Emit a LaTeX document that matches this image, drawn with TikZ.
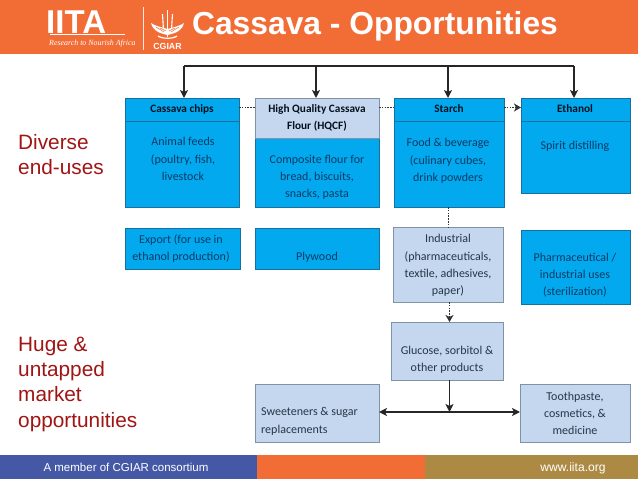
\documentclass[tikz,border=0pt]{standalone}
\usepackage{fontspec}
\setmainfont{Liberation Sans}
\newfontfamily\boxfont{Carlito}
\newfontfamily\logofont{Liberation Serif}
\usetikzlibrary{arrows.meta}
\definecolor{hdr}{HTML}{F26C36}
\definecolor{bluebox}{HTML}{03A9EE}
\definecolor{paleface}{HTML}{C5D7EE}
\definecolor{skyedge}{HTML}{17709F}
\definecolor{paleedge}{HTML}{7E93A6}
\definecolor{skytext}{HTML}{0A3A66}
\definecolor{paletext}{HTML}{25364A}
\definecolor{footblue}{HTML}{4458A6}
\definecolor{footgold}{HTML}{AD8A43}
\definecolor{redtext}{HTML}{A01414}
\tikzset{
  x=1pt,y=-1pt,
  sky/.style={fill=bluebox,draw=skyedge,line width=0.9pt},
  pale/.style={fill=paleface,draw=paleedge,line width=1pt},
  cellbox/.style={inner sep=0pt,outer sep=0pt,anchor=north west},
  skytxt/.style={inner sep=0pt,align=center,text=skytext,font=\boxfont\fontsize{12}{17.3}\selectfont},
  paletxt/.style={inner sep=0pt,align=center,text=paletext,font=\boxfont\fontsize{12}{17.3}\selectfont},
  headtxt/.style={inner sep=0pt,align=center,text=black!70!skytext,font=\boxfont\bfseries\fontsize{11.3}{17}\selectfont},
  solidarrow/.style={line width=1.5pt,draw=black!85,-{Stealth[length=8pt,width=8pt,inset=2pt]}},
  plainline/.style={line width=1.5pt,draw=black!85},
  dotline/.style={line width=1.7pt,draw=black!80,dash pattern=on 1.5pt off 1.3pt},
  side/.style={anchor=north west,inner sep=0pt,align=left,text=redtext,font=\fontsize{20.8}{25.4}\selectfont},
}
\begin{document}
\begin{tikzpicture}
\useasboundingbox (0,0) rectangle (638,479);
% header
\fill[hdr] (0,0) rectangle (638,54);
\node[anchor=base,inner sep=0pt,text=white,font=\bfseries\fontsize{31.8}{33}\selectfont] (title) at (375,34.5) {Cassava - Opportunities};
% logo
\node[anchor=base west,inner sep=0pt,text=white,font=\bfseries\fontsize{33}{33}\selectfont] (iita) at (46,33) {IITA};
\draw[white,line width=0.7pt] (50,34.5) -- (125,34.5);
\node[anchor=west,inner sep=0pt,text=white,font=\logofont\itshape\fontsize{7.9}{9}\selectfont] (tag) at (49,44) {Research to Nourish Africa};
\draw[white!85!hdr,line width=0.7pt] (143.5,7) -- (143.5,50);
\node[anchor=center,inner sep=0pt,text=white,font=\bfseries\fontsize{8.8}{9}\selectfont] (cg) at (167.5,46) {CGIAR};
\draw[white,line width=1.3pt] (167.5,10) -- (167.5,37);
\draw[white,line width=1.1pt] (162.5,14) -- (163.5,30) (172.5,14) -- (171.5,30);
\fill[white] (151,23) .. controls (155,26) and (161,27) .. (167.5,29) .. controls (174,27) and (180,26) .. (184,23) .. controls (182,31) and (176,33) .. (167.5,35) .. controls (159,33) and (153,31) .. (151,23) -- cycle;
\draw[hdr,line width=0.5pt] (156,27) -- (164,32) (179,27) -- (171,32) (160,28) -- (166,31) (175,28) -- (169,31);
\draw[white,line width=1.2pt] (158,36) .. controls (162,39) and (173,39) .. (177,36);
% column 1
\node[cellbox,sky,minimum width=114pt,minimum height=109pt] (chipsbody) at (125,98) {};
\node[cellbox,sky,minimum width=114pt,minimum height=23pt] (chipshead) at (125,98) {};
\node[headtxt] (chips) at (182,109) {Cassava chips};
\node[skytxt] (feeds) at (183,159) {Animal feeds\\(poultry,  fish,\\livestock};
% column 2
\node[cellbox,sky,minimum width=124pt,minimum height=69pt] (compbody) at (255,138) {};
\node[cellbox,pale,minimum width=124pt,minimum height=40pt] (hqcfhead) at (255,98) {};
\node[headtxt] (hqcf) at (317,117.5) {High Quality Cassava\\Flour (HQCF)};
\node[skytxt] (comp) at (317,177.5) {Composite flour for\\bread, biscuits,\\snacks, pasta};
% column 3
\node[cellbox,sky,minimum width=110pt,minimum height=109pt] (starchbody) at (394,98) {};
\node[cellbox,sky,minimum width=110pt,minimum height=23pt] (starchhead) at (394,98) {};
\node[headtxt] (starch) at (449,109) {Starch};
\node[skytxt] (food) at (448,161) {Food \& beverage\\(culinary cubes,\\drink powders};
% column 4
\node[cellbox,sky,minimum width=109pt,minimum height=95pt] (ethbody) at (521,98) {};
\node[cellbox,sky,minimum width=109pt,minimum height=23pt] (ethhead) at (521,98) {};
\node[headtxt] (ethanol) at (575,109) {Ethanol};
\node[skytxt] (spirit) at (575,146) {Spirit distilling};
% second row
\node[cellbox,sky,minimum width=115pt,minimum height=41pt] (exportbox) at (125,228) {};
\node[skytxt] (export) at (181,248.5) {Export (for use in\\ethanol production)};
\node[cellbox,sky,minimum width=124pt,minimum height=41pt] (plybox) at (255,228) {};
\node[skytxt] (ply) at (317,257) {Plywood};
\node[cellbox,pale,minimum width=110pt,minimum height=75pt] (indbox) at (393,227) {};
\node[paletxt] (ind) at (448,265.5) {Industrial\\(pharmaceuticals,\\textile, adhesives,\\paper)};
\node[cellbox,sky,minimum width=109pt,minimum height=74pt] (pharmabox) at (521,230) {};
\node[skytxt] (pharma) at (575,275) {Pharmaceutical /\\industrial uses\\(sterilization)};
\node[cellbox,pale,minimum width=112pt,minimum height=58pt] (glucbox) at (391,322) {};
\node[paletxt] (gluc) at (447,359.5) {Glucose, sorbitol \&\\other products};
\node[cellbox,pale,minimum width=124pt,minimum height=58pt] (sweetbox) at (255,384) {};
\node[paletxt,anchor=west,align=left] (sweet) at (261,421.5) {Sweeteners \& sugar\\replacements};
\node[cellbox,pale,minimum width=110pt,minimum height=58pt] (toothbox) at (520,384) {};
\node[paletxt] (tooth) at (575,413.5) {Toothpaste,\\cosmetics, \&\\medicine};
% connectors
\coordinate (topL) at (184,66);
\coordinate (topB) at (316,66);
\coordinate (topC) at (448,66);
\coordinate (topR) at (574,66);
\draw[plainline] (topL) -- (topR);
\draw[solidarrow] (topL) -- (topL |- chipshead.north);
\draw[solidarrow] (topB) -- (topB |- hqcfhead.north);
\draw[solidarrow] (topC) -- (topC |- starchhead.north);
\draw[solidarrow] (topR) -- (topR |- ethhead.north);
\coordinate (dotrow) at (0,107.5);
\draw[dotline] (chipshead.east |- dotrow) -- (hqcfhead.west |- dotrow);
\draw[dotline] (hqcfhead.east |- dotrow) -- (starchhead.west |- dotrow);
\draw[dotline,-{Stealth[length=7pt,width=8pt,inset=2pt]}] (starchhead.east |- dotrow) -- (ethhead.west |- dotrow);
\coordinate (dotx) at (448.5,0);
\coordinate (dotz) at (449.5,0);
\draw[dotline] (dotx |- starchbody.south) -- (dotx |- indbox.north);
\draw[dotline,-{Stealth[length=7pt,width=8pt,inset=2pt]}] (dotz |- indbox.south) -- (dotz |- glucbox.north);
\coordinate (tee) at (449.5,412);
\draw[solidarrow] (tee |- glucbox.south) -- (tee);
\draw[plainline,{Stealth[length=8pt,width=8pt,inset=2pt]}-{Stealth[length=8pt,width=8pt,inset=2pt]}] (sweetbox.east |- tee) -- (toothbox.west |- tee);
% side text
\node[side] (div) at (18,134) {Diverse\\end-uses};
\node[side] (huge) at (18,336.5) {Huge \&\\untapped\\market\\opportunities};
% footer
\fill[footblue] (0,455) rectangle (257,479);
\fill[hdr] (257,455) rectangle (425,479);
\fill[footgold] (425,455) rectangle (638,479);
\node[anchor=base,inner sep=0pt,text=white,font=\fontsize{11.5}{13}\selectfont] (memb) at (126,471.5) {A member of CGIAR consortium};
\node[anchor=base,inner sep=0pt,text=white,font=\fontsize{12.1}{13}\selectfont] (web) at (573,471.5) {www.iita.org};
\end{tikzpicture}
\end{document}
